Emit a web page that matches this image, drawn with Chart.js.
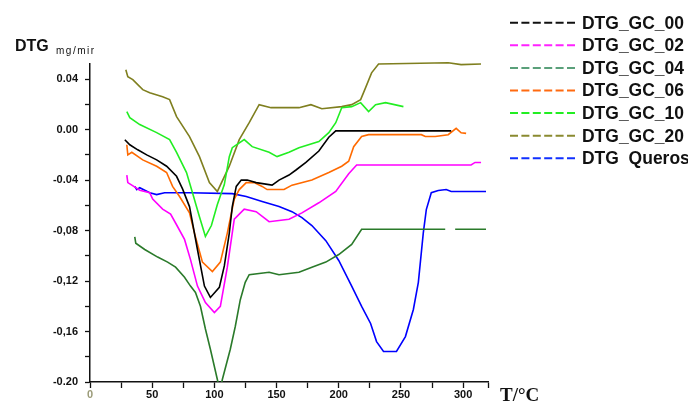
<!DOCTYPE html>
<html><head><meta charset="utf-8">
<script src="https://cdn.jsdelivr.net/npm/chart.js@4.4.1/dist/chart.umd.min.js"></script>
<style>html,body{margin:0;padding:0;background:#fff;}#wrap{position:relative;width:688px;height:404px;}</style>
</head><body><div id="wrap"><canvas id="c" width="688" height="404"></canvas></div>
<script>
// ---- data (T in °C, DTG in mg/min) ----
const gc00T = [28,32,38.4,45.6,53.6,61.6,69.6,74.4,80,86.4,92,96.8,104,108,112,114.4,117.6,121.6,126.4,133.6,146.4,152,160,165.6,173.6,184,192,197.6,290.4];
const gc00V = [-0.008,-0.012,-0.016,-0.020,-0.024,-0.029,-0.037,-0.047,-0.061,-0.095,-0.124,-0.133,-0.125,-0.108,-0.082,-0.061,-0.045,-0.040,-0.040,-0.042,-0.044,-0.040,-0.036,-0.032,-0.026,-0.017,-0.006,-0.001,-0.001];

const gc02T = [29.6,30.4,33.6,40,48,50.4,58.4,64.8,68.8,76,80.8,86.4,92.8,100,104.8,110.4,116,124,133.6,144,160,170.4,184,197.6,208,214.4,306.4,309.6,314.4];
const gc02V = [-0.036,-0.042,-0.044,-0.048,-0.050,-0.055,-0.063,-0.067,-0.074,-0.087,-0.103,-0.124,-0.137,-0.145,-0.140,-0.109,-0.071,-0.063,-0.065,-0.073,-0.071,-0.066,-0.058,-0.049,-0.035,-0.028,-0.028,-0.026,-0.026];

const gc04T = [36,36.8,44,54.4,62.4,68.8,76,80.8,84.8,88.8,92.8,96.8,102.4,104.4,106.4,112.8,116.8,120.8,124.8,128,144,152,168,178.4,189.6,200,210.4,218.4,285.6,289,293.6,318.4];
const gc04V = [-0.085,-0.090,-0.095,-0.101,-0.105,-0.109,-0.117,-0.124,-0.129,-0.140,-0.158,-0.174,-0.198,-0.207,-0.198,-0.174,-0.156,-0.135,-0.121,-0.115,-0.113,-0.115,-0.113,-0.109,-0.105,-0.099,-0.091,-0.079,-0.079,null,-0.079,-0.079];

const gc06T = [29.6,30.4,33.6,42.4,53.6,61.6,66.4,72,80,84,90.4,98.4,104.8,110.4,116,120,125.6,132,138.4,142.4,156,162.4,178.4,192,202.4,208,212,218.4,224,266.4,269.6,277.6,288,294.4,298.4,302.4];
const gc06V = [-0.012,-0.020,-0.018,-0.024,-0.029,-0.034,-0.045,-0.053,-0.066,-0.082,-0.105,-0.1125,-0.105,-0.082,-0.055,-0.0475,-0.042,-0.042,-0.045,-0.0475,-0.0475,-0.044,-0.040,-0.034,-0.029,-0.025,-0.0135,-0.0055,-0.004,-0.004,-0.0055,-0.0055,-0.004,0.001,-0.0025,-0.003];

const gc10T = [29.6,32,40,53.6,64,69.6,77.6,82.4,88,92.8,97.6,102.4,108,112,114.4,124,130.4,144,150.4,160,168,184,192,197.6,202.4,210.4,217.6,224,229.6,237.6,252];
const gc10V = [0.0143,0.0095,0.004,-0.0024,-0.0079,-0.018,-0.034,-0.050,-0.069,-0.0847,-0.076,-0.0594,-0.0436,-0.0214,-0.0143,-0.0079,-0.0135,-0.018,-0.0214,-0.018,-0.0143,-0.0095,-0.0024,0.0055,0.0174,0.0182,0.0214,0.0143,0.0198,0.0214,0.0182];

const gc20T = [28.8,30.4,34.4,42.4,48,58.4,64,69.6,80,88,96,102.4,112,120,128,136,145.6,168,177.6,186.4,202.4,210.4,217.6,221.6,226.4,232,288,298.4,314.4];
const gc20V = [0.0475,0.042,0.0396,0.0317,0.0293,0.0261,0.0238,0.0103,-0.0055,-0.0214,-0.042,-0.049,-0.029,-0.008,0.0055,0.0198,0.0174,0.0174,0.0198,0.0166,0.0182,0.0198,0.0238,0.0333,0.045,0.052,0.053,0.0515,0.052];

const querosT = [36,37.6,40,48,53.6,60,80,114.4,125.6,138.4,152,162.4,170.4,178.4,189.6,200,210.4,218.4,225.6,230.4,236,246.4,253.6,260,264,268,270.4,274.4,280,286.4,290.4,318.4];
const querosV = [-0.0451,-0.0475,-0.046,-0.050,-0.0515,-0.050,-0.050,-0.0507,-0.053,-0.057,-0.061,-0.065,-0.0697,-0.076,-0.088,-0.1037,-0.124,-0.140,-0.1536,-0.168,-0.1758,-0.1758,-0.164,-0.1425,-0.121,-0.0816,-0.0634,-0.050,-0.0483,-0.0475,-0.049,-0.049];

const seriesNames = ['DTG_GC_00','DTG_GC_02','DTG_GC_04','DTG_GC_06','DTG_GC_10','DTG_GC_20','DTG  Queros'];
const seriesT = [gc00T,gc02T,gc04T,gc06T,gc10T,gc20T,querosT];
const seriesV = [gc00V,gc02V,gc04V,gc06V,gc10V,gc20V,querosV];

const xTicks = [0,25,50,75,100,125,150,175,200,225,250,275,300,320];
const xTickLabels = ['0','','50','','100','','150','','200','','250','','300',''];
const yTicks = [-0.20,-0.18,-0.16,-0.14,-0.12,-0.10,-0.08,-0.06,-0.04,-0.02,0.00,0.02,0.04];
const yTickLabels = ['-0.20','','-0,16','','-0,12','','-0,08','','-0.04','','0.00','','0.04'];

// ---- styles ----
const lineColors = ['#000000','#ff00ff','#2a7a2a','#ff6a00','#22ee22','#7f7f1f','#0000ff'];
const legendColors = ['#111111','#ff22ff','#5aa07a','#ff6a10','#22ee22','#8a8a30','#1030ff'];
const sans = '"Liberation Sans",Arial,sans-serif';

const datasets = seriesT.map((t,i)=>({
  label: seriesNames[i],
  data: t.map((x,j)=>({x:x,y:seriesV[i][j]})),
  borderColor: lineColors[i],
  backgroundColor: lineColors[i],
  borderWidth: 1.6,
  pointRadius: 0,
  tension: 0,
  spanGaps: false,
  clip: i===2 ? {left:false,right:false,top:false,bottom:0} : false
}));

const decor = {
  id:'decor',
  afterDraw(chart){
    const ctx = chart.ctx;
    ctx.save();
    ctx.font = 'bold 18px ' + sans;
    const sx = 102 / ctx.measureText(seriesNames[0]).width;
    seriesNames.forEach((n,i)=>{
      const y = 22.7 + i*22.6;
      ctx.strokeStyle = legendColors[i];
      ctx.lineWidth = 2;
      ctx.setLineDash([8,3.4]);
      ctx.beginPath(); ctx.moveTo(510,y); ctx.lineTo(576,y); ctx.stroke();
      ctx.setLineDash([]);
      ctx.fillStyle = '#111';
      ctx.font = 'bold 18px ' + sans;
      ctx.textBaseline = 'middle';
      ctx.textAlign = 'left';
      ctx.save();
      ctx.translate(582, y+1);
      ctx.scale(sx, 1);
      ctx.fillText(n, 0, 0);
      ctx.restore();
    });
    // y title
    ctx.fillStyle = '#111';
    ctx.textBaseline = 'alphabetic';
    ctx.font = 'bold 16px ' + sans;
    ctx.fillText('DTG', 15, 51);
    ctx.font = '10px ' + sans;
    ctx.letterSpacing = '1.5px';
    ctx.fillText('mg/mir', 56, 54);
    ctx.letterSpacing = '0px';
    // x title
    ctx.font = 'bold 19px "Liberation Serif","Times New Roman",serif';
    ctx.fillText('T/°C', 500, 401);
    ctx.restore();
  }
};

new Chart(document.getElementById('c'), {
  type:'line',
  data:{datasets},
  plugins:[decor],
  options:{
    responsive:false,
    animation:false,
    devicePixelRatio:1,
    layout:{padding:{left:0,right:200,top:64,bottom:0}},
    plugins:{legend:{display:false},tooltip:{enabled:false}},
    scales:{
      x:{
        type:'linear', min:0, max:320,
        afterBuildTicks(s){ s.ticks = xTicks.map(v=>({value:v})); },
        afterFit(s){ s.height = 22; },
        ticks:{autoSkip:false, maxRotation:0, padding:0,
          color:(c)=> c.tick && c.tick.value===0 ? '#9b9b78' : '#111',
          font:{family:sans, size:11, weight:'bold'},
          callback:(v,i)=> xTickLabels[i]},
        grid:{drawOnChartArea:false, drawTicks:true, tickLength:6, tickColor:'#111', tickWidth:1.3},
        border:{display:true, color:'#111', width:1.5}
      },
      y:{
        type:'linear', min:-0.20, max:0.052,
        afterBuildTicks(s){ s.ticks = yTicks.map(v=>({value:v})); },
        afterFit(s){ s.width = 90; },
        ticks:{autoSkip:false, padding:7, color:'#111',
          font:{family:sans, size:11, weight:'bold'},
          callback:(v,i)=> yTickLabels[i]},
        grid:{drawOnChartArea:false, drawTicks:true, tickLength:5, tickColor:'#111', tickWidth:1.3},
        border:{display:true, color:'#111', width:1.5}
      }
    }
  }
});
</script></body></html>
